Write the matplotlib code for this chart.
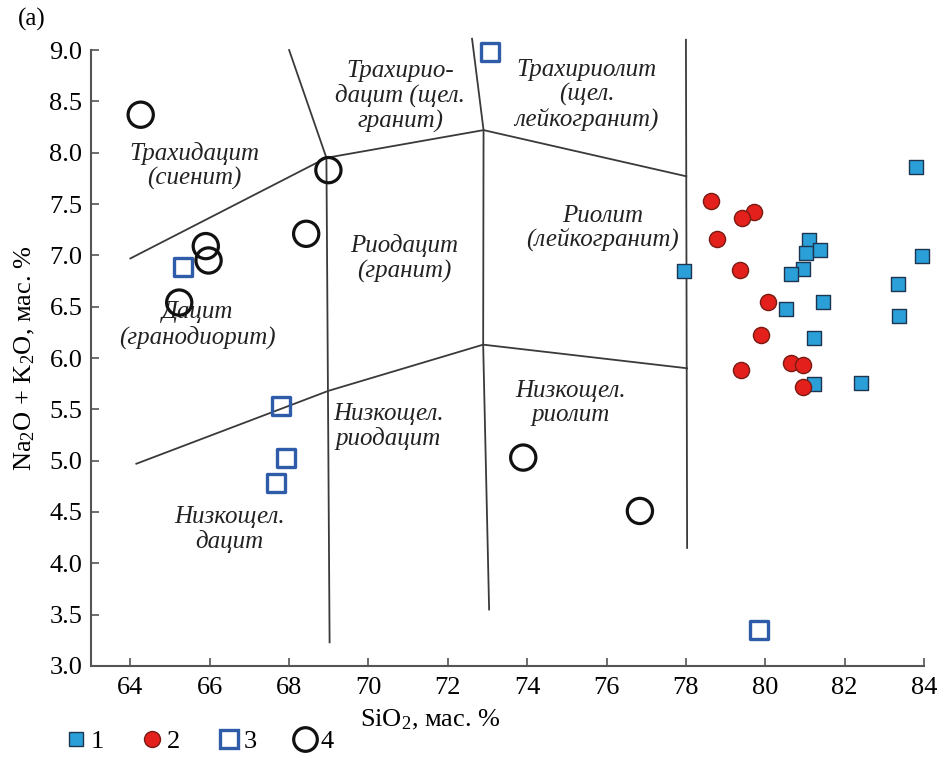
import matplotlib
matplotlib.use("Agg")
import matplotlib.pyplot as plt
from matplotlib.lines import Line2D

plt.rcParams['font.family'] = ['Liberation Serif', 'DejaVu Serif']
plt.rcParams['mathtext.fontset'] = 'custom'
plt.rcParams['mathtext.rm'] = 'Liberation Serif'
plt.rcParams['mathtext.it'] = 'Liberation Serif:italic'

# series 1: filled blue squares
s1_x = [83.80, 83.94, 77.95, 81.10, 81.03, 81.38, 80.96, 80.64, 83.35, 81.46, 80.52, 83.38, 81.22, 81.22, 82.40]
s1_y = [7.86, 6.99, 6.85, 7.15, 7.02, 7.05, 6.87, 6.82, 6.72, 6.55, 6.48, 6.41, 6.19, 5.75, 5.76]
# series 2: red circles
s2_x = [78.64, 79.71, 79.42, 78.79, 79.35, 80.06, 79.89, 80.64, 80.96, 79.38, 80.96]
s2_y = [7.53, 7.42, 7.36, 7.16, 6.86, 6.55, 6.22, 5.95, 5.93, 5.88, 5.72]
# series 3: open blue squares
s3_x = [73.07, 65.32, 67.79, 67.92, 67.67, 79.85]
s3_y = [8.98, 6.89, 5.53, 5.03, 4.78, 3.35]
# series 4: open black circles
s4_x = [64.26, 68.99, 68.43, 65.90, 65.97, 65.23, 73.90, 76.84]
s4_y = [8.37, 7.83, 7.21, 7.09, 6.95, 6.54, 5.03, 4.51]

# field boundaries (SiO2, Na2O+K2O)
boundaries = [
    ([64.0, 68.94, 72.90, 78.01], [6.97, 7.95, 8.22, 7.77]),
    ([64.15, 68.99, 72.89, 78.03], [4.97, 5.68, 6.13, 5.90]),
    ([68.0, 68.94, 69.02], [9.0, 7.95, 3.23]),
    ([72.61, 72.90, 72.89, 73.04], [9.11, 8.22, 6.13, 3.55]),
    ([78.0, 78.03], [9.10, 4.15]),
]

fields = [
    ("Трахидацит\n(сиенит)", 65.6, 7.87),
    ("Трахирио-\nдацит (щел.\nгранит)", 70.8, 8.55),
    ("Трахириолит\n(щел.\nлейкогранит)", 75.5, 8.56),
    ("Риолит\n(лейкогранит)", 75.9, 7.26),
    ("Риодацит\n(гранит)", 70.9, 6.97),
    ("Дацит\n(гранодиорит)", 65.7, 6.32),
    ("Низкощел.\nриодацит", 70.5, 5.33),
    ("Низкощел.\nриолит", 75.1, 5.56),
    ("Низкощел.\nдацит", 66.5, 4.33),
]

fig = plt.figure(figsize=(9.4, 7.77), dpi=100)
ax = fig.add_axes([0.0965, 0.1429, 0.8865, 0.7927])

for bx, by in boundaries:
    ax.plot(bx, by, color="#3a3a3a", lw=1.3, clip_on=False, zorder=1)

for txt, x, y in fields:
    ax.text(x, y, txt, ha="center", va="center", fontsize=18, style="italic",
            linespacing=1.12, color="#222222")

ax.scatter(s1_x, s1_y, marker="s", s=105, facecolor="#2a9fd8", edgecolor="#1d3550", lw=1.0, zorder=3, clip_on=False)
ax.scatter(s2_x, s2_y, marker="o", s=135, facecolor="#e3201b", edgecolor="#7a1a14", lw=1.0, zorder=3, clip_on=False)
ax.scatter(s3_x, s3_y, marker="s", s=170, facecolor="none", edgecolor="#2f5ca8", lw=2.4, zorder=3, clip_on=False)
ax.scatter(s4_x, s4_y, marker="o", s=330, facecolor="none", edgecolor="#111111", lw=2.3, zorder=3, clip_on=False)

ax.set_xlim(63, 84)
ax.set_ylim(3, 9)
ax.set_xticks(range(64, 85, 2))
ax.set_yticks([3 + 0.5 * i for i in range(13)])
ax.set_yticklabels(["%.1f" % (3 + 0.5 * i) for i in range(13)])
ax.spines["top"].set_visible(False)
ax.spines["right"].set_visible(False)
for sp in ("left", "bottom"):
    ax.spines[sp].set_color("#555555")
    ax.spines[sp].set_linewidth(1.5)
ax.tick_params(direction="in", length=6, width=1.2, color="#555555", labelsize=19)
ax.tick_params(axis="x", pad=8)
ax.tick_params(axis="y", pad=6)

ax.set_xlabel("SiO$_2$, мас. %", fontsize=19)
ax.xaxis.set_label_coords(0.408, -0.068)
ax.set_ylabel("Na$_2$O + K$_2$O, мас. %", fontsize=19)
ax.yaxis.set_label_coords(-0.065, 0.5)

fig.text(0.019, 0.975, "(a)", fontsize=18, va="center", ha="left")

handles = [
    Line2D([], [], ls="none", marker="s", ms=10, mfc="#2a9fd8", mec="#1d3550", mew=1.0),
    Line2D([], [], ls="none", marker="o", ms=11.5, mfc="#e3201b", mec="#7a1a14", mew=1.0),
    Line2D([], [], ls="none", marker="s", ms=13, mfc="none", mec="#2f5ca8", mew=2.4),
    Line2D([], [], ls="none", marker="o", ms=17, mfc="none", mec="#111111", mew=2.3),
]
fig.legend(handles, ["1", "2", "3", "4"], loc="center left", bbox_to_anchor=(0.040, 1 - 741 / 777),
           ncol=4, frameon=False, fontsize=19, handletextpad=0.0, columnspacing=1.3, handlelength=1.1)

fig.savefig("out.png", dpi=100)
